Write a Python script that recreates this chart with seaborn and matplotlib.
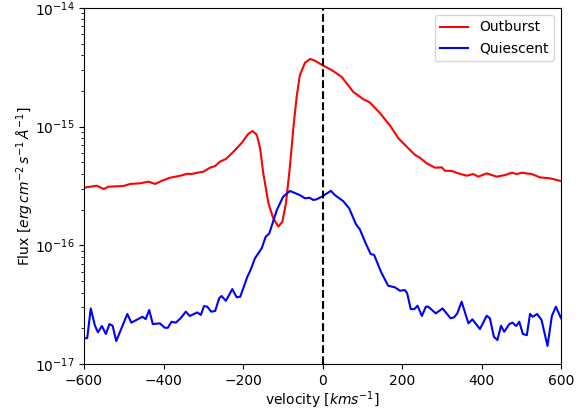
import matplotlib
matplotlib.use("Agg")
import matplotlib.pyplot as plt
import seaborn as sns
import numpy as np
import pandas as pd

# Outburst spectrum (velocity in km/s, flux in units of 1e-16 erg cm^-2 s^-1 A^-1)
out_vel = [-600, -568, -550, -539, -501, -484, -459, -438, -421, -404, -384, -358, -340, -329,
           -316, -300, -283, -270, -258, -243, -224, -203, -187, -176, -165, -157, -149, -136,
           -124, -111, -101, -92, -82, -73, -65, -57, -44, -31, -19, -1, 23, 48, 77, 103, 119,
           145, 170, 191, 212, 233, 245, 262, 283, 300, 308, 325, 342, 363, 379, 392, 413, 438,
           459, 476, 489, 501, 526, 547, 572, 600]
out_flux = [3.06, 3.18, 2.98, 3.12, 3.16, 3.29, 3.33, 3.44, 3.29, 3.50, 3.71, 3.86, 4.01, 3.99,
            4.09, 4.17, 4.51, 4.66, 5.07, 5.34, 6.15, 7.32, 8.67, 9.19, 8.50, 6.57, 4.04, 2.26,
            1.69, 1.44, 1.58, 2.26, 4.60, 9.99, 17.9, 27.2, 34.6, 37.2, 35.9, 33.1, 30.0, 26.3,
            19.7, 17.0, 16.0, 12.95, 10.2, 7.98, 6.77, 5.77, 5.47, 4.91, 4.51, 4.54, 4.25, 4.23,
            4.04, 3.86, 3.99, 3.79, 4.04, 3.79, 3.91, 4.09, 3.99, 4.09, 3.99, 3.74, 3.67, 3.48]

# Quiescent spectrum
qui_vel = [-600, -592, -583, -573, -565, -555, -545, -536, -528, -519, -491, -481, -453, -445,
           -436, -427, -409, -397, -389, -380, -369, -357, -344, -334, -315, -306, -298, -290,
           -280, -270, -260, -254, -243, -227, -216, -207, -189, -181, -170, -153, -143, -134,
           -115, -99, -82, -57, -44, -33, -23, -15, -2, 21, 31, 52, 67, 84, 94, 107, 121, 130,
           147, 165, 182, 195, 207, 213, 222, 231, 239, 250, 260, 266, 285, 302, 322, 331, 339,
           350, 367, 377, 396, 413, 421, 431, 440, 449, 457, 470, 478, 487, 495, 504, 514, 522,
           529, 540, 551, 566, 577, 587, 600]
qui_flux = [0.165, 0.165, 0.294, 0.213, 0.185, 0.209, 0.179, 0.217, 0.210, 0.156, 0.264, 0.223,
            0.250, 0.239, 0.285, 0.217, 0.220, 0.202, 0.202, 0.227, 0.223, 0.243, 0.276, 0.254,
            0.272, 0.259, 0.308, 0.304, 0.276, 0.280, 0.358, 0.374, 0.341, 0.428, 0.365, 0.369,
            0.544, 0.619, 0.777, 0.944, 1.18, 1.26, 1.98, 2.57, 2.87, 2.65, 2.49, 2.52, 2.41,
            2.44, 2.57, 2.88, 2.65, 2.36, 2.05, 1.51, 1.36, 1.07, 0.845, 0.829, 0.599, 0.457,
            0.443, 0.414, 0.420, 0.394, 0.290, 0.290, 0.310, 0.254, 0.304, 0.304, 0.267, 0.294,
            0.243, 0.247, 0.267, 0.335, 0.220, 0.238, 0.197, 0.255, 0.243, 0.170, 0.159, 0.210,
            0.187, 0.217, 0.223, 0.209, 0.227, 0.179, 0.175, 0.264, 0.250, 0.264, 0.235, 0.142,
            0.254, 0.304, 0.243]

UNIT = 1e-16

fig = plt.figure(figsize=(5.85, 4.12), dpi=100)
ax = fig.add_axes([0.1436, 0.1165, 0.959 - 0.1436, 0.9806 - 0.1165])

sns.lineplot(x=out_vel, y=np.array(out_flux) * UNIT, ax=ax, color="red",
             label="Outburst", estimator=None, sort=False, linewidth=1.5)
sns.lineplot(x=qui_vel, y=np.array(qui_flux) * UNIT, ax=ax, color="blue",
             label="Quiescent", estimator=None, sort=False, linewidth=1.5)
ax.axvline(0, color="black", linestyle="--", linewidth=1.5)

ax.set_yscale("log")
ax.set_xlim(-600, 600)
ax.set_ylim(1e-17, 1e-14)
ax.set_xlabel(r"velocity [$km s^{-1}$]", labelpad=1)
ax.set_ylabel(r"Flux [$erg\,cm^{-2}\,s^{-1}\,\AA^{-1}$]", labelpad=-1)
ax.legend(loc="upper right")

fig.savefig("out.png", dpi=100)
